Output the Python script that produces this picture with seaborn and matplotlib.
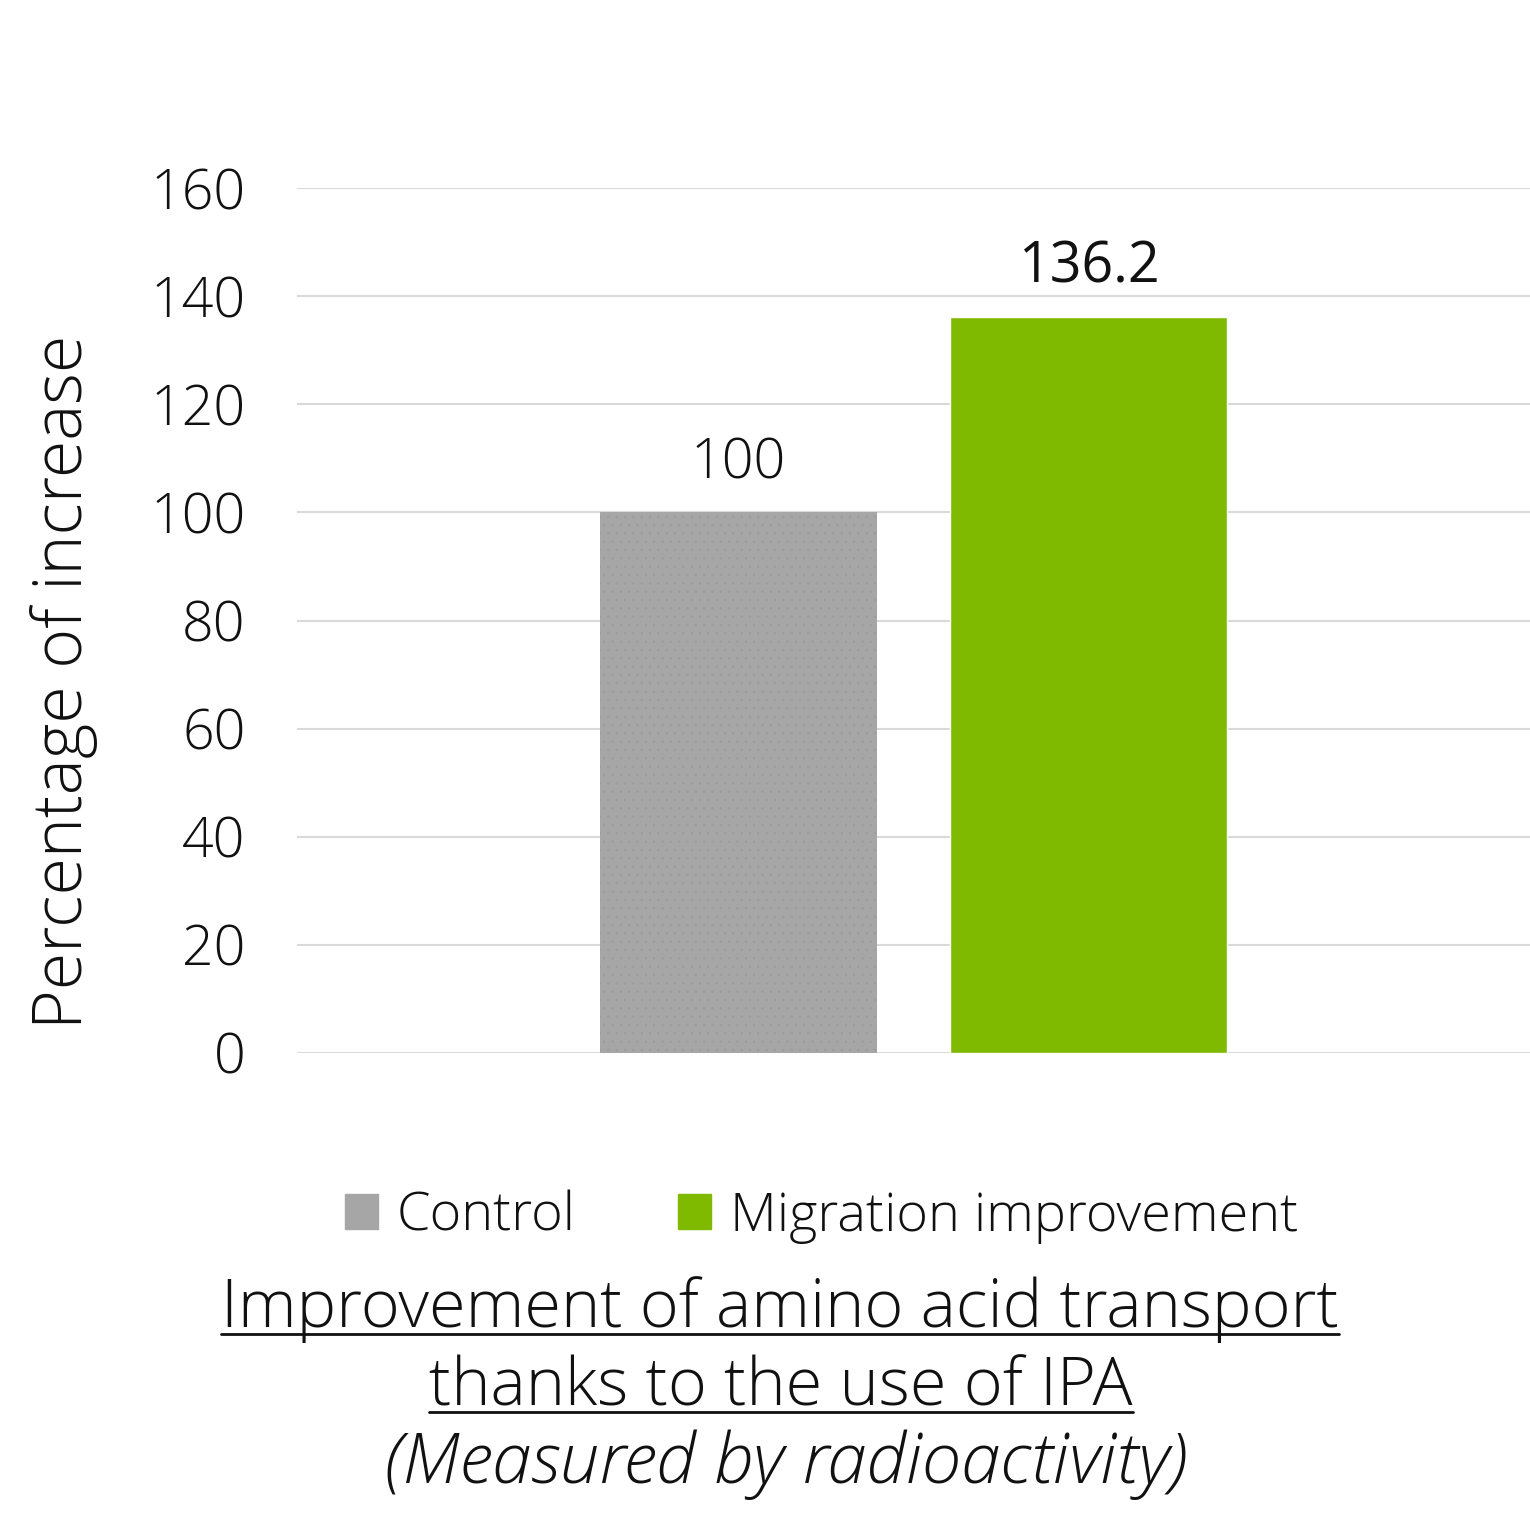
import matplotlib
matplotlib.use("Agg")
import matplotlib.pyplot as plt
import matplotlib.patches as mpatches
import seaborn as sns
import pandas as pd

# dados do gráfico
series = ["Control", "Migration improvement"]
values = [100, 136.2]
value_labels = ["100", "136.2"]
colors = ["#A6A6A6", "#7FBA00"]
yticks = [0, 20, 40, 60, 80, 100, 120, 140, 160]
ylabel = "Percentage of increase"
title_lines = ["Improvement of amino acid transport", "thanks to the use of IPA"]
subtitle = "(Measured by radioactivity)"

sns.set_theme(style="white")
plt.rcParams["font.family"] = ["Open Sans", "DejaVu Sans"]
plt.rcParams["font.weight"] = 300
plt.rcParams["text.color"] = "#111111"
plt.rcParams["hatch.linewidth"] = 0.5

fig = plt.figure(figsize=(15.3, 15.4), dpi=100)
ax = fig.add_axes([297 / 1530, 1 - 1053 / 1540, 1233 / 1530, 865 / 1540])

df = pd.DataFrame({"serie": series, "valor": values})
sns.barplot(data=df, x="serie", y="valor", hue="serie", palette=colors,
            width=0.7886, legend=False, ax=ax, saturation=1)
# textura pontilhada suave na barra cinza
ax.patches[0].set_hatch("..")
ax.patches[0].set_edgecolor("#9C9C9C")
ax.patches[0].set_linewidth(0)

ax.set_xlim(-1.2614, 2.2614)
ax.set_ylim(0, 160)
ax.set_yticks(yticks)
ax.set_yticklabels([str(t) for t in yticks], fontsize=40, fontweight=300, color="#111111")
ax.tick_params(axis="y", length=0, pad=37)
ax.set_xticks([])
ax.set_xlabel("")
ax.set_ylabel("")
ax.grid(axis="y", color="#D9D9D9", linewidth=1.5)
ax.set_axisbelow(True)
for s in ax.spines.values():
    s.set_visible(False)

fig.text(64 / 1530, 1 - 682 / 1540, ylabel, rotation=90, ha="center", va="center",
         fontsize=49, fontweight=300)

for i, (v, lab) in enumerate(zip(values, value_labels)):
    ax.text(i, v + 3.8, lab, ha="center", va="bottom", fontsize=40,
            fontweight=300 if i == 0 else "normal")

handles = [mpatches.Patch(color=c, label=s) for c, s in zip(colors, series)]
fig.legend(handles=handles, loc="center", bbox_to_anchor=(0.537, 1 - 1217 / 1540),
           ncol=2, frameon=False, fontsize=39, handlelength=0.6, handleheight=0.6,
           handletextpad=0.35, columnspacing=1.9)

t1 = fig.text(0.5098, 1 - 1310 / 1540, title_lines[0], ha="center", va="center", fontsize=48)
t2 = fig.text(0.5105, 1 - 1388 / 1540, title_lines[1], ha="center", va="center", fontsize=48)
fig.text(0.514, 1 - 1465 / 1540, subtitle, ha="center", va="center", fontsize=51, style="italic")

# sublinhado do título
fig.canvas.draw()
r = fig.canvas.get_renderer()
for t in (t1, t2):
    bb = t.get_window_extent(r).transformed(fig.transFigure.inverted())
    y = bb.y0 + 0.006
    fig.add_artist(plt.Line2D([bb.x0, bb.x1], [y, y], transform=fig.transFigure,
                              color="#111111", linewidth=2))

fig.savefig("out.png", dpi=100)
